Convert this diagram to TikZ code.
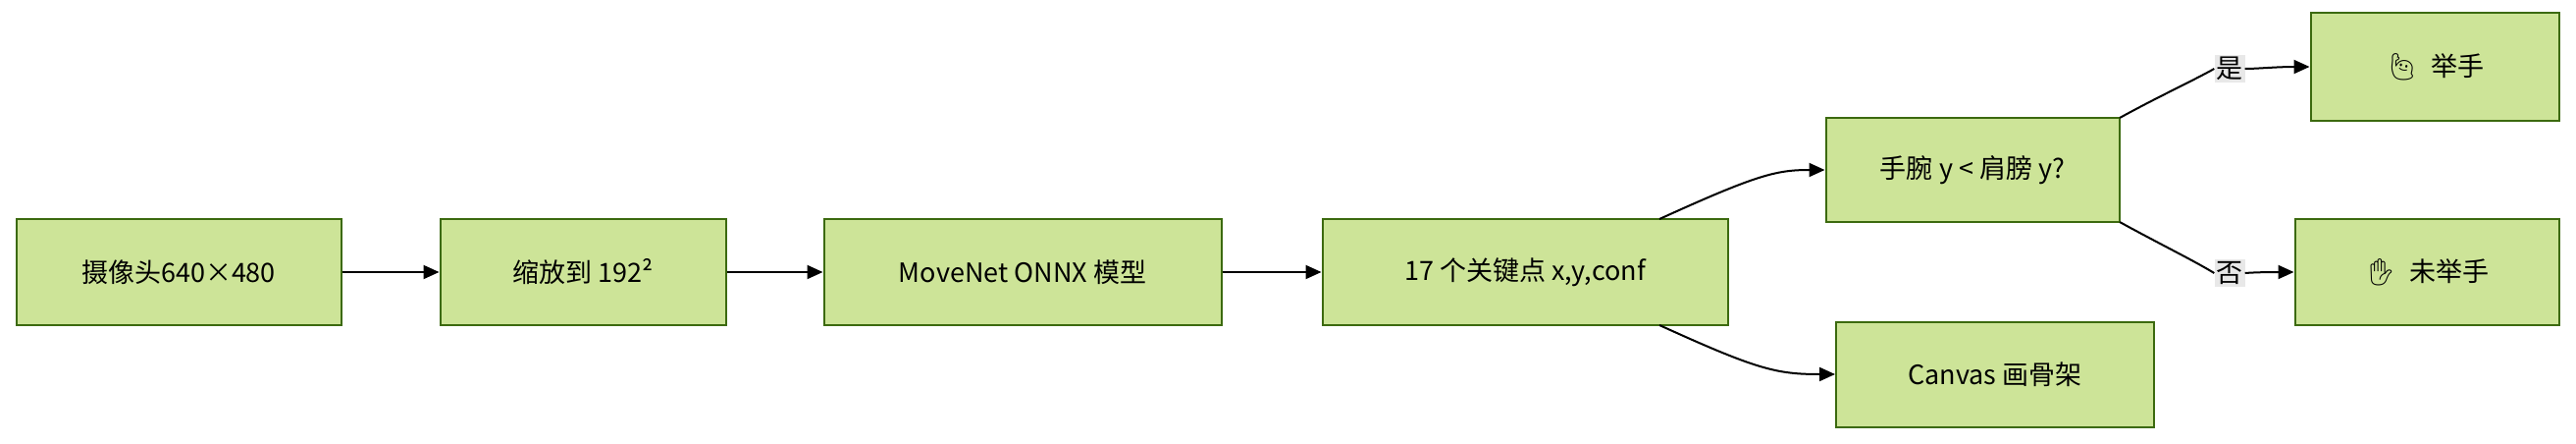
\documentclass[tikz,border=0pt]{standalone}
\usepackage{fontspec}
\setmainfont{Noto Sans CJK SC}
\newfontfamily\emo{Noto Emoji}
\usetikzlibrary{arrows.meta}
\definecolor{boxfill}{HTML}{CDE498}
\definecolor{boxline}{HTML}{3C6A0F}
\definecolor{lblbg}{HTML}{E8E8E8}
\tikzset{
  box/.style={draw=boxline, fill=boxfill, line width=2pt, inner sep=0pt, font=\fontsize{27}{32}\selectfont},
  conn/.style={line width=2pt, -{Triangle[length=16pt,width=14pt]}},
  lbl/.style={fill=lblbg, inner sep=2pt, font=\fontsize{27}{32}\selectfont}
}
\begin{document}
\begin{tikzpicture}[x=1pt,y=-1pt]
\useasboundingbox (0,0) rectangle (2625,452);
\node[box, minimum width=331pt, minimum height=108pt] (a) at (182,277) {摄像头640×480};
\node[box, minimum width=291pt, minimum height=108pt] (b) at (594,277) {缩放到 192²};
\node[box, minimum width=405pt, minimum height=108pt] (c) at (1042,277) {MoveNet ONNX 模型};
\node[box, minimum width=413pt, minimum height=108pt] (d) at (1554,277) {17 个关键点 x,y,conf};
\node[box, minimum width=299pt, minimum height=106pt] (e) at (2010,173) {手腕 y < 肩膀 y?};
\node[box, minimum width=324pt, minimum height=107pt] (f) at (2033,381) {Canvas 画骨架};
\node[box, minimum width=253pt, minimum height=109pt] (g) at (2481,68) {{\emo 🙋}\ \ 举手};
\node[box, minimum width=269pt, minimum height=108pt] (h) at (2473,277) {{\emo ✋}\ \ 未举手};
\draw[conn] (a) -- (b);
\draw[conn] (b) -- (c);
\draw[conn] (c) -- (d);
\draw[conn] (1691,223) .. controls (1790,178) and (1810,173) .. (e.west);
\draw[conn] (1691,331) .. controls (1790,376) and (1810,381) .. (f.west);
\node[lbl] (ly) at (2272,70) {是};
\node[lbl] (ln) at (2272,278) {否};
\coordinate (et) at (2160,120);
\coordinate (eb) at (2160,226);
\draw[line width=2pt] (et) .. controls (2200,98) and (2235,82) .. (ly.west);
\draw[conn] (ly.east) .. controls (2300,70) and (2320,68) .. (g.west);
\draw[line width=2pt] (eb) .. controls (2200,248) and (2235,265) .. (ln.west);
\draw[conn] (ln.east) .. controls (2300,277) and (2320,277) .. (h.west);
\end{tikzpicture}
\end{document}
